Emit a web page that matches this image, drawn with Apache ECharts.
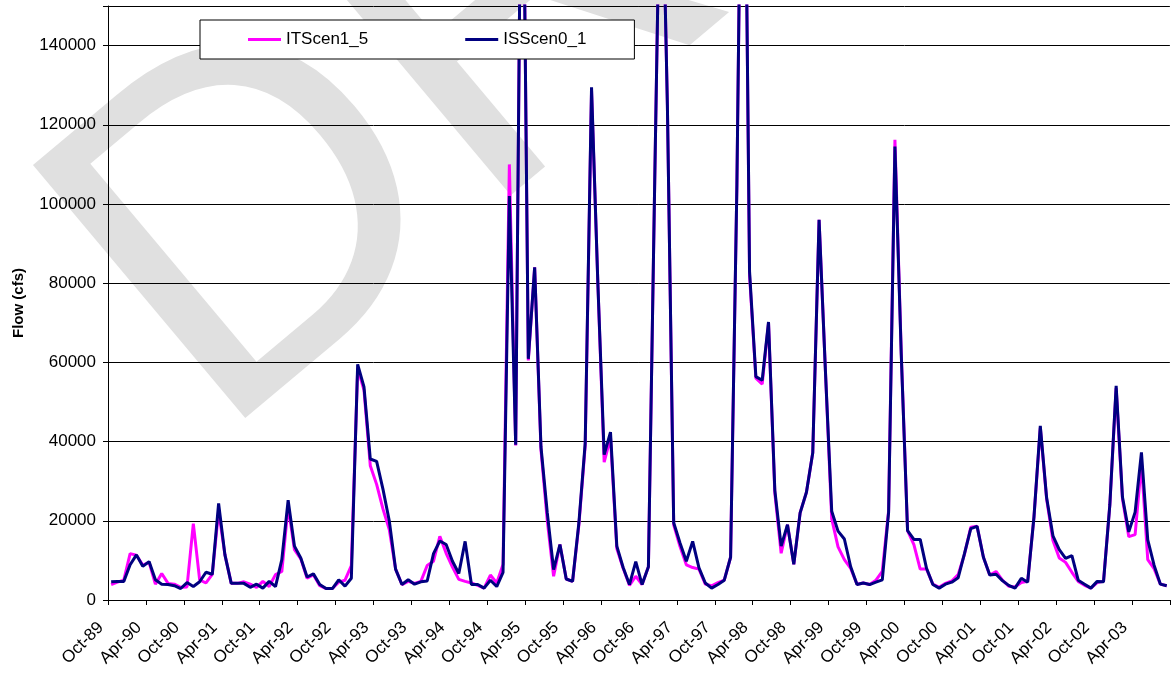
<!DOCTYPE html>
<html>
<head>
<meta charset="utf-8">
<script src="https://cdn.jsdelivr.net/npm/echarts@6/dist/echarts.min.js"></script>
<style>
html,body{margin:0;padding:0;background:#fff;}
#chart{width:1172px;height:673px;}
</style>
</head>
<body>
<div id="chart"></div>
<script>
// Monthly categories, water years 1990-2003
const months = [
 'Oct-89','Nov-89','Dec-89','Jan-90','Feb-90','Mar-90','Apr-90','May-90','Jun-90','Jul-90','Aug-90','Sep-90',
 'Oct-90','Nov-90','Dec-90','Jan-91','Feb-91','Mar-91','Apr-91','May-91','Jun-91','Jul-91','Aug-91','Sep-91',
 'Oct-91','Nov-91','Dec-91','Jan-92','Feb-92','Mar-92','Apr-92','May-92','Jun-92','Jul-92','Aug-92','Sep-92',
 'Oct-92','Nov-92','Dec-92','Jan-93','Feb-93','Mar-93','Apr-93','May-93','Jun-93','Jul-93','Aug-93','Sep-93',
 'Oct-93','Nov-93','Dec-93','Jan-94','Feb-94','Mar-94','Apr-94','May-94','Jun-94','Jul-94','Aug-94','Sep-94',
 'Oct-94','Nov-94','Dec-94','Jan-95','Feb-95','Mar-95','Apr-95','May-95','Jun-95','Jul-95','Aug-95','Sep-95',
 'Oct-95','Nov-95','Dec-95','Jan-96','Feb-96','Mar-96','Apr-96','May-96','Jun-96','Jul-96','Aug-96','Sep-96',
 'Oct-96','Nov-96','Dec-96','Jan-97','Feb-97','Mar-97','Apr-97','May-97','Jun-97','Jul-97','Aug-97','Sep-97',
 'Oct-97','Nov-97','Dec-97','Jan-98','Feb-98','Mar-98','Apr-98','May-98','Jun-98','Jul-98','Aug-98','Sep-98',
 'Oct-98','Nov-98','Dec-98','Jan-99','Feb-99','Mar-99','Apr-99','May-99','Jun-99','Jul-99','Aug-99','Sep-99',
 'Oct-99','Nov-99','Dec-99','Jan-00','Feb-00','Mar-00','Apr-00','May-00','Jun-00','Jul-00','Aug-00','Sep-00',
 'Oct-00','Nov-00','Dec-00','Jan-01','Feb-01','Mar-01','Apr-01','May-01','Jun-01','Jul-01','Aug-01','Sep-01',
 'Oct-01','Nov-01','Dec-01','Jan-02','Feb-02','Mar-02','Apr-02','May-02','Jun-02','Jul-02','Aug-02','Sep-02',
 'Oct-02','Nov-02','Dec-02','Jan-03','Feb-03','Mar-03','Apr-03','May-03','Jun-03','Jul-03','Aug-03','Sep-03'
];

const tickLabels = [
 'Oct-89','Apr-90','Oct-90','Apr-91','Oct-91','Apr-92','Oct-92','Apr-93','Oct-93','Apr-94',
 'Oct-94','Apr-95','Oct-95','Apr-96','Oct-96','Apr-97','Oct-97','Apr-98','Oct-98','Apr-99',
 'Oct-99','Apr-00','Oct-00','Apr-01','Oct-01','Apr-02','Oct-02','Apr-03'
];

const seriesNames = ['ITScen1_5', 'ISScen0_1'];

const itScen1_5 = [
 3900, 4500, 5000, 11700, 11300, 8800, 9500, 4000, 6700, 4200, 4000, 3200,
 3300, 19300, 5100, 4300, 6500, 22500, 11400, 4200, 4200, 4600, 4000, 3200,
 4700, 3400, 6400, 7200, 23700, 12700, 10400, 5500, 6400, 3600, 2900, 2900,
 4500, 5000, 8700, 58500, 53000, 33900, 29200, 23000, 17800, 7800, 3900, 4700,
 4200, 4700, 8700, 9800, 16100, 11800, 8300, 5200, 4700, 4300, 3700, 3000,
 6300, 4300, 9000, 110000, 39000, 220000, 60500, 84000, 38000, 20000, 6000, 14000,
 5300, 4700, 19000, 39000, 128500, 80000, 34800, 41000, 13000, 8000, 3700, 6000,
 3900, 8400, 106000, 200000, 125000, 19000, 13500, 8900, 8200, 7800, 4000, 3600,
 4400, 5000, 10800, 105000, 240000, 82000, 56000, 54500, 70000, 27000, 11800, 19000,
 9000, 22000, 27200, 37200, 96000, 58000, 20500, 13400, 10200, 8000, 4000, 4300,
 3900, 5000, 7200, 22500, 116200, 62500, 17500, 14000, 7800, 7800, 4000, 3200,
 4200, 4800, 6400, 11500, 18400, 18600, 10800, 6300, 7200, 5000, 3500, 3300,
 4400, 4700, 21000, 43500, 25500, 15000, 10600, 9500, 7000, 4700, 3700, 3000,
 4400, 4700, 24000, 53500, 25500, 16000, 16500, 34600, 10200, 7900, 4000, 3600
];

const isScen0_1 = [
 4600, 4700, 4700, 8900, 11400, 8500, 9700, 5100, 4000, 3900, 3600, 2900,
 4400, 3400, 4600, 7000, 6500, 24400, 11400, 4200, 4200, 4200, 3200, 4000,
 3000, 4700, 3400, 10200, 25200, 13600, 10600, 5800, 6600, 3900, 2900, 2900,
 5100, 3500, 5500, 59500, 53800, 35600, 35000, 28000, 20000, 7800, 3900, 5100,
 4000, 4600, 4800, 11700, 14900, 14000, 9800, 6700, 14800, 3900, 3900, 3000,
 5000, 3400, 7000, 102000, 39200, 220000, 60900, 84000, 38700, 22000, 7700, 14000,
 5300, 4700, 19500, 39700, 129500, 80000, 36700, 42400, 13600, 8200, 3900, 9700,
 3900, 8400, 106000, 200000, 125000, 19500, 14400, 9800, 14800, 8100, 4300, 3000,
 3900, 5000, 10800, 105000, 240000, 83000, 56400, 55500, 70200, 27700, 13600, 19000,
 9000, 22000, 27200, 37200, 96000, 58000, 22400, 17400, 15400, 8400, 3900, 4300,
 3900, 4500, 5100, 22100, 114500, 62000, 17500, 15300, 15300, 8000, 3900, 3000,
 4000, 4500, 5600, 11700, 18000, 18600, 10800, 6300, 6500, 4900, 3700, 3000,
 5500, 4500, 21000, 44000, 25800, 16200, 12700, 10500, 11200, 5000, 4000, 3000,
 4700, 4600, 24000, 54100, 26000, 17200, 22200, 37300, 15200, 8800, 4000, 3600
];

const FONT = '"Liberation Sans", Arial, sans-serif';

const chart = echarts.init(document.getElementById('chart'), null, {renderer: 'canvas'});

const option = {
  animation: false,
  backgroundColor: '#ffffff',
  textStyle: {fontFamily: FONT, color: '#000'},
  grid: {left: 108, top: 6, width: 1065, height: 594, containLabel: false},
  graphic: [{
    type: 'text',
    z: -1,
    x: 130,
    y: 342,
    rotation: 40 * Math.PI / 180,
    silent: true,
    style: {
      text: 'DRAFT',
      fill: '#e0e0e0',
      font: '480px "Liberation Sans", Arial, sans-serif',
      textAlign: 'left',
      textVerticalAlign: 'middle',
      verticalAlign: 'middle'
    }
  }],
  legend: {
    left: 200,
    top: 20,
    data: seriesNames,
    icon: 'rect',
    itemWidth: 33,
    itemHeight: 3,
    itemGap: 97,
    padding: [11, 48, 11, 48],
    backgroundColor: '#ffffff',
    borderColor: '#000000',
    borderWidth: 1,
    borderRadius: 0,
    textStyle: {fontFamily: FONT, fontSize: 17, color: '#000'}
  },
  xAxis: [
    {
      type: 'category',
      data: months,
      boundaryGap: true,
      position: 'bottom',
      axisLine: {show: true, onZero: false, lineStyle: {color: '#000', width: 1}},
      axisTick: {show: false},
      axisLabel: {show: false},
      splitLine: {show: false}
    },
    {
      type: 'value',
      min: 0,
      max: 168,
      interval: 6,
      position: 'bottom',
      axisLine: {show: false},
      axisTick: {show: true, length: 5, lineStyle: {color: '#000', width: 1}},
      axisLabel: {
        rotate: 45,
        fontSize: 17,
        fontFamily: FONT,
        color: '#000',
        margin: 18,
        padding: [0, 10, 0, 0],
        formatter: function (v) { return tickLabels[Math.round(v / 6)] || ''; }
      },
      splitLine: {show: false}
    }
  ],
  yAxis: {
    type: 'value',
    min: 0,
    max: 150000,
    interval: 20000,
    name: 'Flow (cfs)',
    nameLocation: 'middle',
    nameGap: 82,
    nameRotate: 90,
    nameTextStyle: {fontFamily: FONT, fontWeight: 'bold', fontSize: 15, color: '#000'},
    axisLine: {show: true, lineStyle: {color: '#000', width: 1}},
    axisTick: {show: true, length: 5, lineStyle: {color: '#000', width: 1}},
    axisLabel: {
      fontSize: 17,
      fontFamily: FONT,
      color: '#000',
      margin: 12,
      formatter: function (v) { return v > 140000 ? '' : String(v); }
    },
    splitLine: {show: true, lineStyle: {color: '#000', width: 1}}
  },
  series: [
    {
      name: seriesNames[0],
      type: 'line',
      xAxisIndex: 0,
      data: itScen1_5,
      symbol: 'none',
      color: '#ff00ff',
      lineStyle: {color: '#ff00ff', width: 3},
      z: 2
    },
    {
      name: seriesNames[1],
      type: 'line',
      xAxisIndex: 0,
      data: isScen0_1,
      symbol: 'none',
      color: '#000080',
      lineStyle: {color: '#000080', width: 3},
      z: 3
    }
  ]
};

chart.setOption(option);
</script>
</body>
</html>
